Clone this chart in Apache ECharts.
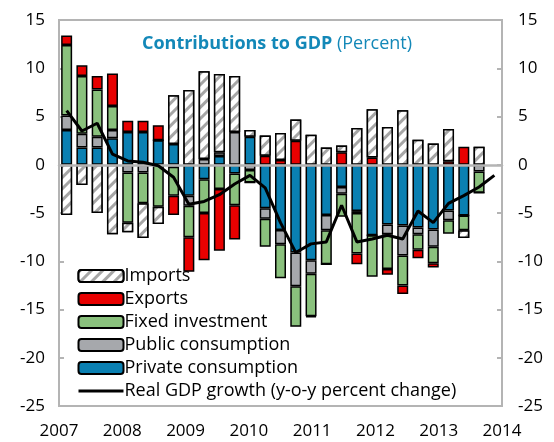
<!DOCTYPE html>
<html>
<head>
<meta charset="utf-8">
<script src="https://cdn.jsdelivr.net/npm/echarts@6/dist/echarts.min.js"></script>
<style>
  html, body { margin: 0; padding: 0; background: #fff; }
  #chart { width: 554px; height: 442px; }
</style>
</head>
<body>
<div id="chart"></div>
<script>
// quarters 2007Q1 .. 2014Q1 (bars end at 2013Q4, growth line at 2014Q1)
var quarters = [];
for (var y = 2007; y <= 2014; y++) {
  for (var q = 1; q <= 4; q++) {
    if (y === 2014 && q > 1) break;
    quarters.push(y + 'Q' + q);
  }
}
var yearLabels = ['2007', '2008', '2009', '2010', '2011', '2012', '2013', '2014'];

var privateCons = [3.6, 1.8, 1.8, 2.75, 3.4, 3.4, 2.55, 2.15, -3.2, -1.5, 0.9, -0.9, 2.9, -4.5, -6.75, -9.1, -9.9, -5.2, -2.3, -4.8, -7.3, -6.2, -6.3, -6.5, -6.7, -4.75, -5.25, 0, null];
var publicCons = [1.5, 1.4, 1.1, 0.85, -0.8, -0.8, 0, -0.2, -1.05, 0.6, 0.4, 3.4, -0.55, -1.1, -1.5, -3.5, -1.4, -1.6, -0.7, -0.2, 0, -1.0, -3.1, -0.7, -1.8, -1.0, 0, -0.7, null];
var fixedInv = [7.3, 6.0, 4.9, 2.5, -5.2, -3.2, -4.35, -3.0, -3.25, -3.5, -2.5, -3.3, -1.3, -2.9, -3.5, -4.2, -4.4, -3.5, -2.4, -4.2, -4.3, -3.6, -3.1, -1.6, -1.7, -1.4, -1.55, -2.2, null];
var exportsC = [1.0, 1.1, 1.4, 3.35, 1.15, 1.15, 1.55, -2.0, -3.6, -4.9, -6.4, -3.55, 0, 0.93, 0.5, 2.5, -0.1, 0, 1.3, -1.1, 0.76, -0.6, -0.9, -0.9, -0.45, 0.35, 1.86, 0, null];
var importsC = [-5.2, -2.1, -5.0, -7.2, -1.0, -3.6, -1.8, 5.05, 7.75, 9.1, 8.1, 5.8, 0.7, 2.1, 2.8, 2.2, 3.1, 1.8, 0.7, 3.8, 5.0, 3.9, 5.65, 2.6, 2.2, 3.35, -0.8, 1.86, null];
var gdpGrowth = [5.6, 3.5, 4.3, 1.1, 0.4, 0.25, -0.1, -1.3, -4.1, -3.8, -3.1, -2.0, -1.1, -2.4, -6.0, -9.1, -8.2, -8.0, -4.2, -8.0, -7.7, -7.3, -7.7, -4.8, -6.0, -4.0, -3.2, -2.3, -1.1];

var font = 'Open Sans';
var gray = '#b4b4b4';

function barSeries(name, data, color, decal) {
  var s = {
    name: name,
    type: 'bar',
    stack: 'c',
    barWidth: '72%',
    data: data,
    itemStyle: { color: color, borderColor: '#000', borderWidth: 1.5 }
  };
  if (decal) s.itemStyle.decal = decal;
  return s;
}

var chart = echarts.init(document.getElementById('chart'));
chart.setOption({
  animation: false,
  textStyle: { fontFamily: font },
  title: {
    left: 'center',
    top: 30,
    text: '{b|Contributions to GDP} {n|(Percent)}',
    textStyle: {
      rich: {
        b: { fontFamily: font, fontSize: 18, fontWeight: 'bold', color: '#1388b8' },
        n: { fontFamily: font, fontSize: 18, fontWeight: 'normal', color: '#1388b8' }
      }
    }
  },
  grid: { left: 59, right: 52, top: 20, bottom: 36, show: true, borderColor: gray, borderWidth: 2 },
  legend: {
    orient: 'vertical',
    left: 72,
    top: 260,
    itemWidth: 45,
    itemHeight: 12,
    itemGap: 1,
    textStyle: { fontFamily: font, fontSize: 18, color: '#000', lineHeight: 22, padding: [0, 0, 0, -4] },
    data: ['Imports', 'Exports', 'Fixed investment', 'Public consumption', 'Private consumption',
      {
        name: 'Real GDP growth (y-o-y percent change)',
        itemStyle: { color: 'rgba(0,0,0,0)', borderWidth: 0 },
        lineStyle: { color: '#000', width: 3 }
      }]
  },
  xAxis: [{
    type: 'category',
    data: quarters,
    z: 3,
    axisLine: { onZero: true, lineStyle: { color: gray, width: 2.5 } },
    axisTick: { show: false },
    axisLabel: { show: false }
  }, {
    type: 'value',
    min: 0,
    max: 7,
    interval: 1,
    position: 'bottom',
    axisLine: { show: false },
    axisTick: { show: false },
    splitLine: { show: false },
    axisLabel: {
      margin: 17,
      fontFamily: font,
      fontSize: 17,
      color: '#000',
      formatter: function (v) { return yearLabels[v]; }
    }
  }],
  yAxis: [{
    type: 'value',
    min: -25,
    max: 15,
    interval: 5,
    axisLine: { show: false },
    axisTick: { show: true, inside: true, length: 5, lineStyle: { color: gray, width: 2 } },
    splitLine: { show: false },
    axisLabel: { margin: 14, fontFamily: font, fontSize: 17, color: '#000' }
  }, {
    type: 'value',
    min: -25,
    max: 15,
    interval: 5,
    position: 'right',
    axisLine: { show: false },
    axisTick: { show: true, inside: true, length: 5, lineStyle: { color: gray, width: 2 } },
    splitLine: { show: false },
    axisLabel: { margin: 16, fontFamily: font, fontSize: 17, color: '#000' }
  }],
  series: [
    barSeries('Private consumption', privateCons, '#0a80b2'),
    barSeries('Public consumption', publicCons, '#a6a8ac'),
    barSeries('Fixed investment', fixedInv, '#8ac17d'),
    barSeries('Exports', exportsC, '#e80000'),
    barSeries('Imports', importsC, '#ffffff', {
      symbol: 'rect',
      symbolSize: 1,
      color: '#a6a6a6',
      backgroundColor: '#ffffff',
      dashArrayX: [1, 0],
      dashArrayY: [3, 5],
      rotation: -Math.PI / 4
    }),
    {
      name: 'Real GDP growth (y-o-y percent change)',
      type: 'line',
      data: gdpGrowth,
      symbol: 'none',
      z: 5,
      lineStyle: { color: '#000', width: 3 },
      itemStyle: { color: '#000' }
    }
  ]
});
</script>
</body>
</html>
